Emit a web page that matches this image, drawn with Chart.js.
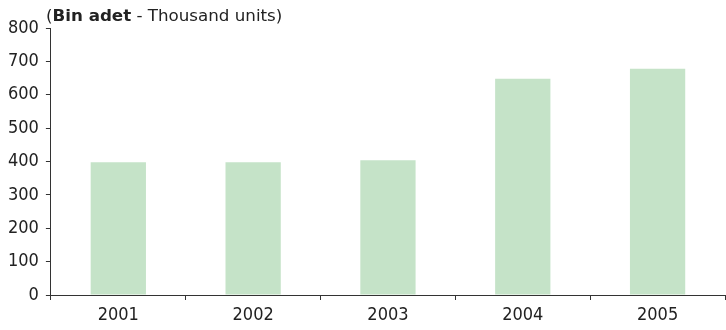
<!DOCTYPE html>
<html>
<head>
<meta charset="utf-8">
<script src="https://cdn.jsdelivr.net/npm/chart.js@4.4.0/dist/chart.umd.min.js"></script>
<style>
  html, body { margin: 0; padding: 0; background: #fff; }
  #wrap { position: relative; width: 726px; height: 330px; }
  #unitTitle {
    position: absolute; left: 46px; top: 5px;
    font: 16.7px "DejaVu Sans", sans-serif; color: #222;
    white-space: nowrap;
  }
</style>
</head>
<body>
<div id="wrap">
  <canvas id="salesChart" width="726" height="330"></canvas>
  <div id="unitTitle">(<b>Bin adet</b> - Thousand units)</div>
</div>
<script>
const years = ['2001', '2002', '2003', '2004', '2005'];
const units = [398, 398, 404, 648, 678];
const yTicks = [0, 100, 200, 300, 400, 500, 600, 700, 800];

const axisColor = '#333333';
const textColor = '#222222';
const tickFont = { family: '"DejaVu Sans Condensed", "DejaVu Sans", sans-serif', size: 18 };

const ctx = document.getElementById('salesChart').getContext('2d');
new Chart(ctx, {
  type: 'bar',
  data: {
    labels: years,
    datasets: [{
      data: units,
      backgroundColor: '#c5e3c8',
      borderWidth: 0,
      categoryPercentage: 1,
      barPercentage: 0.41
    }]
  },
  options: {
    responsive: false,
    animation: false,
    layout: { padding: { top: 28, left: 1, right: 1, bottom: 0 } },
    plugins: {
      legend: { display: false },
      tooltip: { enabled: false }
    },
    scales: {
      x: {
        grid: {
          offset: true,
          drawOnChartArea: false,
          drawTicks: true,
          tickLength: 5,
          color: axisColor
        },
        border: { color: axisColor, width: 1 },
        ticks: { color: textColor, font: { ...tickFont, lineHeight: 1 }, padding: 6 }
      },
      y: {
        min: 0,
        max: 800,
        afterBuildTicks: axis => { axis.ticks = yTicks.map(v => ({ value: v })); },
        grid: {
          drawOnChartArea: false,
          drawTicks: true,
          tickLength: 5,
          color: axisColor
        },
        border: { color: axisColor, width: 1 },
        ticks: { color: textColor, font: tickFont, padding: 7 }
      }
    }
  }
});
</script>
</body>
</html>
